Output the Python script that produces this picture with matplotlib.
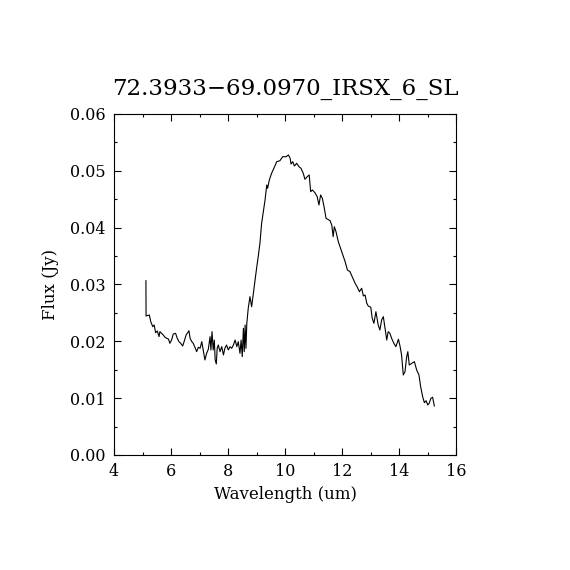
import matplotlib
matplotlib.use("Agg")
import matplotlib.pyplot as plt
from matplotlib.ticker import MultipleLocator, FormatStrFormatter

title = "72.3933\u221269.0970_IRSX_6_SL"
xlabel = "Wavelength (um)"
ylabel = "Flux (Jy)"

wavelength = [
    5.12, 5.125, 5.24, 5.29, 5.36, 5.41, 5.46, 5.52, 5.58, 5.61, 5.67, 5.73, 5.79, 5.85, 5.91,
    5.96, 6.02, 6.08, 6.16, 6.22, 6.28, 6.34, 6.41, 6.46, 6.53, 6.63, 6.67, 6.73, 6.78,
    6.84, 6.90, 6.96, 7.02, 7.08, 7.13, 7.19, 7.25, 7.31, 7.37, 7.40, 7.44, 7.48, 7.52,
    7.55, 7.59, 7.62, 7.66, 7.72, 7.78, 7.84, 7.89, 7.95, 8.01, 8.07, 8.13, 8.19, 8.25,
    8.31, 8.36, 8.42, 8.46, 8.50, 8.54, 8.57, 8.60, 8.63, 8.66,
    8.71, 8.77, 8.83, 8.89, 8.95, 9.01, 9.06, 9.12, 9.18, 9.24, 9.30, 9.36, 9.39, 9.45,
    9.53, 9.61, 9.71, 9.82, 9.92, 10.04, 10.12, 10.18, 10.21, 10.27, 10.33, 10.41, 10.49,
    10.56, 10.64, 10.70, 10.78, 10.85, 10.90, 10.96, 11.05, 11.13, 11.19, 11.25, 11.31,
    11.37, 11.44,
    11.58, 11.64, 11.69, 11.73, 11.79, 11.87, 11.99, 12.11, 12.19, 12.28, 12.38, 12.46,
    12.54, 12.61, 12.69, 12.75, 12.81, 12.87, 12.92, 13.01, 13.06, 13.12, 13.19, 13.27,
    13.33, 13.39, 13.45, 13.51, 13.57, 13.62, 13.68, 13.74, 13.82, 13.89, 13.98, 14.04,
    14.09, 14.15, 14.21, 14.27, 14.31, 14.36, 14.45, 14.54, 14.62, 14.70, 14.76, 14.83,
    14.89, 14.95, 15.01, 15.06, 15.12, 15.18, 15.24,
]
flux = [
    0.03067, 0.02446, 0.02463, 0.02346, 0.02258, 0.02287, 0.02152, 0.02182, 0.02082, 0.02170,
    0.02141, 0.02111, 0.02071, 0.02053, 0.02041,
    0.01965, 0.02023, 0.02129, 0.02141, 0.02053, 0.01994, 0.01965, 0.01918, 0.01994, 0.02111,
    0.02187, 0.02053, 0.01994, 0.01965,
    0.01895, 0.01818, 0.01895, 0.01877, 0.01994, 0.01848, 0.01672, 0.01789, 0.01860, 0.02082,
    0.01848, 0.02170, 0.01848, 0.02023,
    0.01672, 0.01601, 0.01877, 0.01935, 0.01818, 0.01906, 0.01760, 0.01877, 0.01935, 0.01848,
    0.01906, 0.01877, 0.01935, 0.02023,
    0.01906, 0.01994, 0.01789, 0.02023, 0.01730, 0.02229, 0.01818, 0.02287, 0.01877, 0.02317,
    0.02581, 0.02785, 0.02609, 0.02845, 0.03079, 0.03313, 0.03489, 0.03725, 0.04077, 0.04281,
    0.04487, 0.04751, 0.04693, 0.04839,
    0.04957, 0.05045, 0.05161, 0.05178, 0.05249, 0.05249, 0.05279, 0.05221, 0.05120, 0.05161,
    0.05085, 0.05133, 0.05073,
    0.05045, 0.04957, 0.04851, 0.04897, 0.04927, 0.04633, 0.04663, 0.04615, 0.04545, 0.04399,
    0.04575, 0.04517,
    0.04369, 0.04165,
    0.04123, 0.04047, 0.03841, 0.04017, 0.03929, 0.03753, 0.03577, 0.03401, 0.03255, 0.03225,
    0.03109, 0.03021,
    0.02951, 0.02873, 0.02933, 0.02798, 0.02815, 0.02669, 0.02622, 0.02599, 0.02405, 0.02317,
    0.02521, 0.02287,
    0.02199, 0.02375, 0.02434, 0.02229, 0.02023, 0.02170, 0.02141, 0.02053, 0.01965, 0.01906,
    0.02036, 0.01906,
    0.01760, 0.01408, 0.01466, 0.01730, 0.01818, 0.01584, 0.01613, 0.01642, 0.01496, 0.01408,
    0.01202, 0.01026,
    0.00920, 0.00955, 0.00880, 0.00910, 0.00998, 0.01015, 0.00862,
]

plt.rcParams['font.family'] = ['DejaVu Serif']

fig = plt.figure(figsize=(5.7, 5.7), dpi=100)
ax = fig.add_axes([0.2, 0.2018, 0.6, 0.5982])
ax.plot(wavelength, flux, color='black', linewidth=0.8)

ax.set_xlim(4, 16)
ax.set_ylim(0, 0.06)
ax.xaxis.set_major_locator(MultipleLocator(2))
ax.xaxis.set_minor_locator(MultipleLocator(1))
ax.yaxis.set_major_locator(MultipleLocator(0.01))
ax.yaxis.set_minor_locator(MultipleLocator(0.005))
ax.yaxis.set_major_formatter(FormatStrFormatter('%.2f'))
ax.tick_params(which='both', direction='in', top=True, right=True, width=0.8)
ax.tick_params(which='major', length=5, labelsize=11.5, pad=6)
ax.tick_params(which='minor', length=2.5)
for s in ax.spines.values():
    s.set_linewidth(0.8)

ax.set_title(title, fontsize=16.5, pad=14)
ax.set_xlabel(xlabel, fontsize=12, labelpad=4)
ax.set_ylabel(ylabel, fontsize=12, labelpad=8)

fig.savefig("out.png", dpi=100)
